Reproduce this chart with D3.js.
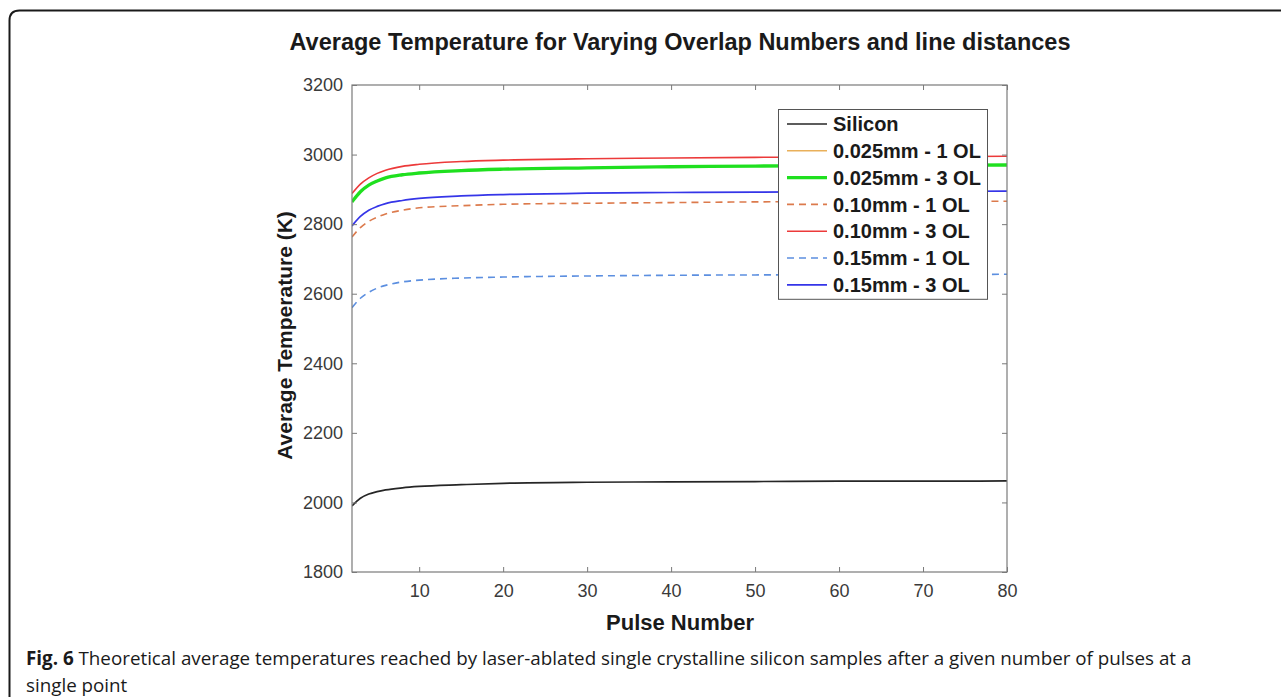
<!DOCTYPE html>
<html>
<head>
<meta charset="utf-8">
<script src="https://cdn.jsdelivr.net/npm/d3@7"></script>
<style>
  html, body { margin: 0; padding: 0; background: #fff; }
  svg { display: block; }
</style>
</head>
<body>
<svg id="fig" width="1281" height="697"></svg>
<script>
// Pulse numbers at which the average temperature is sampled
const pulses = [2, 3, 4, 5, 6, 8, 10, 15, 20, 30, 40, 50, 60, 70, 80];

// Average temperature (K) for each configuration
const silicon    = [1990, 2012, 2024, 2031, 2036, 2042, 2046, 2051, 2055, 2058, 2059, 2060, 2061, 2061, 2062];
const d025_1OL   = [2864, 2893, 2912, 2924, 2933, 2942, 2947, 2954, 2958, 2962, 2965, 2967, 2968, 2969, 2970];
const d025_3OL   = [2864, 2893, 2912, 2924, 2933, 2942, 2947, 2954, 2958, 2962, 2965, 2967, 2968, 2969, 2970];
const d010_1OL   = [2763, 2790, 2808, 2820, 2829, 2840, 2847, 2853, 2857, 2860, 2862, 2864, 2865, 2865, 2866];
const d010_3OL   = [2888, 2915, 2933, 2946, 2955, 2966, 2972, 2980, 2984, 2988, 2990, 2992, 2993, 2994, 2995];
const d015_1OL   = [2560, 2587, 2604, 2616, 2624, 2634, 2639, 2645, 2648, 2651, 2653, 2654, 2655, 2655, 2656];
const d015_3OL   = [2795, 2822, 2840, 2851, 2859, 2868, 2874, 2881, 2885, 2889, 2891, 2892, 2893, 2894, 2895];

const seriesNames = ["Silicon", "0.025mm - 1 OL", "0.025mm - 3 OL", "0.10mm - 1 OL",
                     "0.10mm - 3 OL", "0.15mm - 1 OL", "0.15mm - 3 OL"];
const seriesValues = [silicon, d025_1OL, d025_3OL, d010_1OL, d010_3OL, d015_1OL, d015_3OL];

const xTicks = [10, 20, 30, 40, 50, 60, 70, 80];
const yTicks = [1800, 2000, 2200, 2400, 2600, 2800, 3000, 3200];

const titleText = "Average Temperature for Varying Overlap Numbers and line distances";
const xLabel = "Pulse Number";
const yLabel = "Average Temperature (K)";

// Line styles per series
const styles = [
  { color: "#262626", width: 1.7, dash: null },
  { color: "#e9b05a", width: 1.5, dash: null },
  { color: "#1fe01f", width: 3.3, dash: null },
  { color: "#dc7a4c", width: 1.6, dash: "7,5" },
  { color: "#ec3a3a", width: 1.6, dash: null },
  { color: "#5c8fe0", width: 1.6, dash: "7,5" },
  { color: "#3535e8", width: 1.7, dash: null }
];

const svg = d3.select("#fig");
const chartFont = "'Liberation Sans', Arial, Helvetica, sans-serif";

// Figure frame with rounded top-left corner
const r = 10;
svg.append("path")
  .attr("d", `M9.5,720 L9.5,${10.5 + r} Q9.5,10.5 ${9.5 + r},10.5 L1300,10.5`)
  .attr("fill", "none")
  .attr("stroke", "#1a1a1a")
  .attr("stroke-width", 2);

const plot = { left: 352, right: 1007, top: 85, bottom: 572 };
const x = d3.scaleLinear().domain([2, 80]).range([plot.left, plot.right]);
const y = d3.scaleLinear().domain([1800, 3200]).range([plot.bottom, plot.top]);

// Title
svg.append("text")
  .attr("x", 680)
  .attr("y", 50)
  .attr("text-anchor", "middle")
  .style("font-family", chartFont)
  .style("font-weight", "bold")
  .style("font-size", "23.5px")
  .attr("fill", "#1a1a1a")
  .text(titleText);

// Data lines
const line = d3.line()
  .x(d => x(d[0]))
  .y(d => y(d[1]))
  .curve(d3.curveMonotoneX);

svg.append("clipPath").attr("id", "plotClip")
  .append("rect")
  .attr("x", plot.left).attr("y", plot.top)
  .attr("width", plot.right - plot.left).attr("height", plot.bottom - plot.top);

const linesG = svg.append("g").attr("clip-path", "url(#plotClip)");
seriesValues.forEach((vals, i) => {
  const pts = pulses.map((p, j) => [p, vals[j]]);
  linesG.append("path")
    .datum(pts)
    .attr("d", line)
    .attr("fill", "none")
    .attr("stroke", styles[i].color)
    .attr("stroke-width", styles[i].width)
    .attr("stroke-dasharray", styles[i].dash);
});

// Axes (ticks pointing inward, box drawn separately)
const axisColor = "#7a7a7a";
const labelColor = "#3a3a3a";
const fmt = d3.format("d");

const gx = svg.append("g")
  .attr("transform", `translate(0,${plot.bottom})`)
  .call(d3.axisBottom(x).tickValues(xTicks).tickFormat(fmt).tickSize(-5).tickSizeOuter(0).tickPadding(12));
const gxTop = svg.append("g")
  .attr("transform", `translate(0,${plot.top})`)
  .call(d3.axisTop(x).tickValues(xTicks).tickSize(-5).tickSizeOuter(0).tickFormat(""));
const gy = svg.append("g")
  .attr("transform", `translate(${plot.left},0)`)
  .call(d3.axisLeft(y).tickValues(yTicks).tickFormat(fmt).tickSize(-5).tickSizeOuter(0).tickPadding(9));
const gyRight = svg.append("g")
  .attr("transform", `translate(${plot.right},0)`)
  .call(d3.axisRight(y).tickValues(yTicks).tickSize(-5).tickSizeOuter(0).tickFormat(""));

[gx, gxTop, gy, gyRight].forEach(g => {
  g.select(".domain").remove();
  g.selectAll(".tick line").attr("stroke", axisColor).attr("stroke-width", 1);
  g.selectAll(".tick text")
    .style("font-family", chartFont)
    .style("font-size", "18px")
    .attr("fill", labelColor);
});

svg.append("rect")
  .attr("x", plot.left).attr("y", plot.top)
  .attr("width", plot.right - plot.left).attr("height", plot.bottom - plot.top)
  .attr("fill", "none")
  .attr("stroke", axisColor)
  .attr("stroke-width", 1.2);

// Axis labels
svg.append("text")
  .attr("x", 680)
  .attr("y", 630)
  .attr("text-anchor", "middle")
  .style("font-family", chartFont)
  .style("font-weight", "bold")
  .style("font-size", "22px")
  .attr("fill", "#1a1a1a")
  .text(xLabel);

svg.append("text")
  .attr("transform", `translate(292,${(plot.top + plot.bottom) / 2 + 7}) rotate(-90)`)
  .attr("text-anchor", "middle")
  .style("font-family", chartFont)
  .style("font-weight", "bold")
  .style("font-size", "21px")
  .attr("fill", "#1a1a1a")
  .text(yLabel);

// Legend
const legend = { left: 778, right: 987, top: 109, rowTop: 124, step: 26.8 };
const legendBottom = legend.rowTop + legend.step * (seriesNames.length - 1) + 14;
svg.append("rect")
  .attr("x", legend.left + 0.5).attr("y", legend.top + 0.5)
  .attr("width", legend.right - legend.left).attr("height", legendBottom - legend.top)
  .attr("fill", "#fff")
  .attr("stroke", "#555")
  .attr("stroke-width", 1);

seriesNames.forEach((name, i) => {
  const ly = legend.rowTop + i * legend.step;
  svg.append("line")
    .attr("x1", 787).attr("x2", 827)
    .attr("y1", ly).attr("y2", ly)
    .attr("stroke", styles[i].color)
    .attr("stroke-width", styles[i].width)
    .attr("stroke-dasharray", styles[i].dash);
  svg.append("text")
    .attr("x", 833)
    .attr("y", ly)
    .attr("dy", "0.36em")
    .style("font-family", chartFont)
    .style("font-weight", "bold")
    .style("font-size", "20px")
    .attr("fill", "#1a1a1a")
    .text(name);
});

// Caption
const capFont = "'Open Sans', 'Noto Sans', sans-serif";
const cap1 = svg.append("text")
  .attr("x", 26).attr("y", 665)
  .style("font-family", capFont)
  .style("font-size", "18.8px")
  .attr("fill", "#1a1a1a");
cap1.append("tspan").style("font-weight", "bold").text("Fig. 6");
cap1.append("tspan").text(" Theoretical average temperatures reached by laser-ablated single crystalline silicon samples after a given number of pulses at a");
svg.append("text")
  .attr("x", 26).attr("y", 692)
  .style("font-family", capFont)
  .style("font-size", "18.8px")
  .attr("fill", "#1a1a1a")
  .text("single point");
</script>
</body>
</html>
